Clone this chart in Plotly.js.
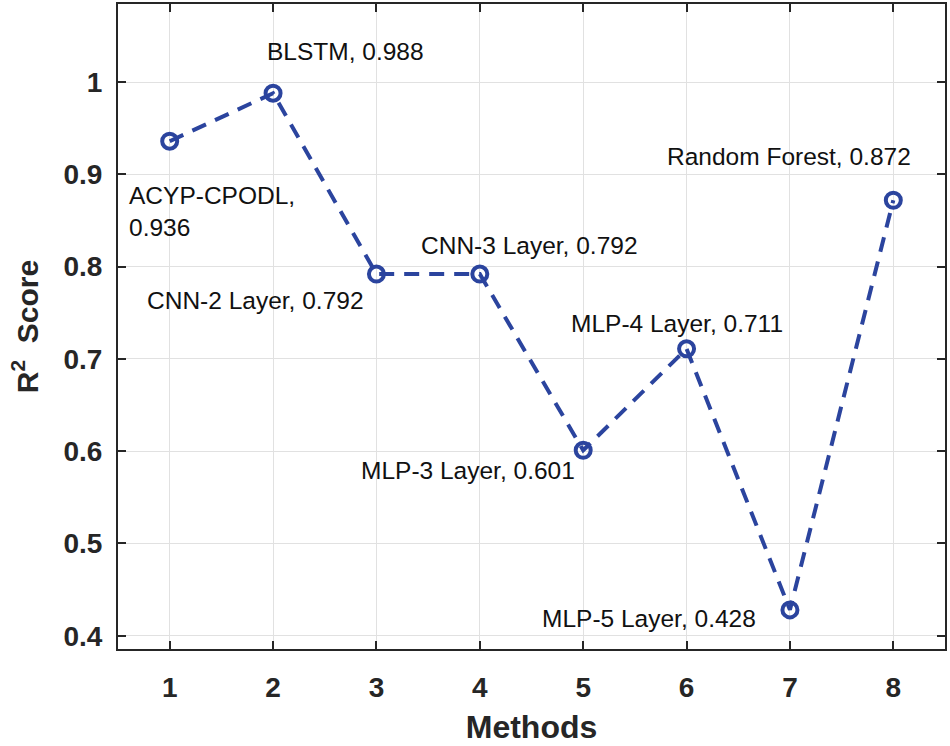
<!DOCTYPE html>
<html>
<head>
<meta charset="utf-8">
<script src="https://cdn.plot.ly/plotly-3.0.1.min.js"></script>
<style>html,body{margin:0;padding:0;background:#fff;}#chart{width:950px;height:746px;}</style>
</head>
<body>
<div id="chart"></div>
<script>
const methods = [1, 2, 3, 4, 5, 6, 7, 8];
const methodNames = ["ACYP-CPODL", "BLSTM", "CNN-2 Layer", "CNN-3 Layer", "MLP-3 Layer", "MLP-4 Layer", "MLP-5 Layer", "Random Forest"];
const r2Scores = [0.936, 0.988, 0.792, 0.792, 0.601, 0.711, 0.428, 0.872];
const xTickVals = [1, 2, 3, 4, 5, 6, 7, 8];
const yTickVals = [0.4, 0.5, 0.6, 0.7, 0.8, 0.9, 1];
const yTickText = ["0.4", "0.5", "0.6", "0.7", "0.8", "0.9", "1"];
// label anchor positions (data coords) for each point's text
const labelX = [0.587, 1.919, 0.761, 3.415, 2.836, 4.863, 4.583, 5.79];
const labelY = [0.860, 1.033, 0.763, 0.823, 0.579, 0.738, 0.419, 0.919];

const lineColor = "#2b449e";

const annotations = methods.map((m, i) => {
  let txt = methodNames[i] + ", " + r2Scores[i].toFixed(3);
  if (i === 0) txt = methodNames[i] + ",<br>" + r2Scores[i].toFixed(3);
  return {
    x: labelX[i], y: labelY[i], xref: "x", yref: "y",
    text: txt, showarrow: false, xanchor: "left", yanchor: "middle", align: "left",
    font: {family: "Liberation Sans, Arial, sans-serif", size: 24.5, color: "#111"}
  };
});

const trace = {
  x: methods, y: r2Scores, type: "scatter", mode: "lines+markers",
  line: {color: lineColor, width: 4, dash: "15px,10px"},
  marker: {symbol: "circle-open", size: 15, color: lineColor, line: {color: lineColor, width: 4}},
  hoverinfo: "skip"
};

const axisCommon = {
  showline: true, mirror: "ticks", linecolor: "#262626", linewidth: 2,
  ticks: "inside", ticklen: 8, tickwidth: 2, tickcolor: "#262626",
  showgrid: true, gridcolor: "#e1e1e1", gridwidth: 1, zeroline: false,
  tickfont: {family: "Liberation Sans, Arial, sans-serif", size: 28, color: "#262626", weight: "bold"}
};

const layout = {
  width: 950, height: 746,
  margin: {l: 118, r: 5, t: 4, b: 97},
  paper_bgcolor: "#fff", plot_bgcolor: "#fff",
  showlegend: false,
  xaxis: Object.assign({}, axisCommon, {
    range: [0.5, 8.5], tickmode: "array", tickvals: xTickVals, ticklabelstandoff: 12,
    title: {text: "<b>Methods</b>", font: {family: "Liberation Sans, Arial, sans-serif", size: 32, color: "#262626"}, standoff: 14}
  }),
  yaxis: Object.assign({}, axisCommon, {
    range: [0.3856, 1.0847], tickmode: "array", tickvals: yTickVals, ticktext: yTickText, ticklabelstandoff: 8,
    title: {text: "<b>R<sup>2</sup>  Score</b>", font: {family: "Liberation Sans, Arial, sans-serif", size: 30, color: "#262626"}, standoff: 16}
  }),
  annotations: annotations
};

Plotly.newPlot("chart", [trace], layout, {displayModeBar: false, staticPlot: true});
</script>
</body>
</html>
